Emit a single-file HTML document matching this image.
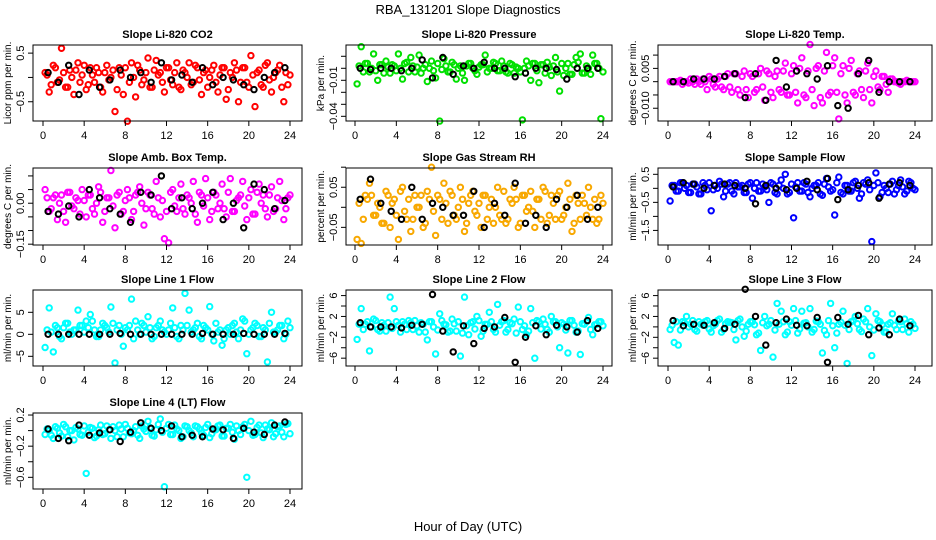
<!DOCTYPE html>
<html><head><meta charset="utf-8"><style>
html,body{margin:0;padding:0;background:#fff;}
svg{display:block;font-family:"Liberation Sans",Arial,sans-serif;}
</style></head><body>
<svg id="chart" width="936" height="540" viewBox="0 0 936 540" xmlns="http://www.w3.org/2000/svg">
<rect width="936" height="540" fill="#fff"/>
<text x="468" y="14" font-size="13" text-anchor="middle">RBA_131201  Slope Diagnostics</text>
<text x="468" y="531" font-size="13" text-anchor="middle">Hour of Day (UTC)</text>
</svg>
<script>
// time axes
const colorTimes = Array.from({length:60},(_, i)=>0.2+0.4*i);
const colorTimes2 = Array.from({length:60},(_, i)=>0.4+0.4*i);
const blackTimes = Array.from({length:24},(_, i)=>0.5+i);
const xTicks = [0,4,8,12,16,20,24];

// Panel series data
const co2Vals = [0.1,-0.3,0.25,-0.1,0.6,-0.2,0.15,-0.35,0.3,0.05,-0.25,0.2,-0.1,0.1,-0.3,0.25,0.0,-0.7,0.2,-0.35,-0.9,0.3,-0.4,0.15,-0.05,0.4,-0.2,0.35,0.1,-0.3,0.2,-0.15,0.3,-0.25,0.1,0.3,-0.1,0.2,-0.35,0.15,0.0,0.25,-0.3,0.2,-0.45,0.1,0.3,-0.5,0.2,-0.1,0.45,-0.6,0.15,-0.2,0.3,-0.3,0.1,0.25,-0.5,-0.15];
const co2Core = [0.05,-0.15,0.2,-0.05,0.1,-0.2,0.0,0.15,-0.1,0.25,-0.15,0.05,0.2,-0.2,0.1,-0.05,0.15,-0.25,0.05,0.2,-0.1,0.0,0.25,-0.15,0.1,-0.2,0.15,0.05,-0.1,0.2,-0.05,0.1,-0.2,0.15,0.0,-0.15,0.25,-0.05,0.1,-0.2,0.15,-0.1,0.05,0.2,-0.25,0.0,0.15,-0.1,0.2,-0.2,0.05,0.1,-0.15,0.25,-0.05,0.0,0.15,-0.2,0.1,0.05];
const co2Black = [0.1,-0.1,0.25,-0.35,0.15,-0.2,-0.05,0.15,0.0,0.1,-0.1,0.3,-0.05,0.05,-0.1,0.2,-0.15,0.0,-0.05,-0.15,-0.25,0.0,0.1,0.2];
const presVals = [-0.013,0.018,0.004,-0.003,0.012,-0.01,0.003,0.006,-0.004,0.002,0.012,-0.009,0.005,0.009,-0.003,0.011,0.0,-0.011,0.006,-0.008,-0.044,0.008,-0.003,0.005,-0.009,0.002,-0.01,0.004,0.0,-0.005,0.003,0.011,0.0,0.005,-0.002,0.006,-0.003,0.004,-0.004,0.0,-0.043,0.006,-0.01,0.004,-0.012,0.003,0.005,-0.006,0.009,-0.019,-0.006,0.004,-0.005,0.009,0.012,-0.004,0.0,0.011,0.004,-0.042];
const presCore = [0.002,-0.003,0.004,0.0,-0.002,0.003,-0.004,0.001,0.003,-0.002,0.0,0.004,-0.003,0.002,0.001,-0.004,0.003,0.0,-0.002,0.004,-0.001,0.002,-0.003,0.003,0.0,-0.004,0.002,0.004,-0.002,0.001,0.003,-0.003,0.0,0.004,-0.002,0.002,-0.004,0.003,0.001,-0.003,0.0,0.002,0.004,-0.002,0.003,-0.004,0.001,0.002,-0.003,0.004,0.0,-0.005,0.003,0.005,-0.004,0.002,-0.005,0.004,0.0,-0.003];
const presBlack = [0.0,-0.001,0.0,0.0,-0.002,0.0,0.007,-0.008,0.009,-0.005,0.002,0.0,0.005,0.0,0.0,-0.007,-0.004,0.0,0.0,-0.001,-0.009,0.0,0.0,0.0];
const tempVals = [0,0,0,-0.001,0,0.001,-0.001,0,0.001,-0.003,0.001,-0.002,0.002,-0.003,0.003,-0.004,0.003,-0.005,0.004,-0.006,0.002,-0.003,0.005,-0.007,0.003,-0.006,0.004,-0.004,0.007,-0.005,0.006,-0.008,0.009,-0.006,0.014,-0.009,0.006,-0.008,0.011,-0.004,0.009,-0.014,0.006,-0.008,0.008,-0.005,0.004,-0.006,0.007,-0.008,0.004,-0.003,0.002,-0.004,0.001,0,-0.001,0,0,0];
const tempCore = [0,0,0.0005,0,-0.0005,0,0.001,-0.001,0,0.002,-0.001,0.001,-0.002,0.002,-0.002,0.003,-0.003,0.002,-0.003,0.003,-0.004,0.003,-0.002,0.004,-0.004,0.002,-0.003,0.004,-0.005,0.003,-0.004,0.005,-0.005,0.004,-0.003,0.005,-0.006,0.004,-0.005,0.006,-0.004,0.003,-0.005,0.005,-0.004,0.003,-0.003,0.004,-0.003,0.002,-0.002,0.002,-0.001,0.001,0,-0.0005,0,0.0005,0,0];
const tempBlack = [0,0,0.001,0.001,0.001,0.002,0.003,-0.006,0.003,-0.007,0.008,-0.002,0.004,0.003,0.001,0.006,-0.009,-0.01,0.003,0.008,-0.004,0,0,0];
const ambVals = [0.05,-0.03,0.02,-0.06,0.03,-0.07,0.04,-0.02,0.01,0.05,-0.05,0.03,-0.04,0.06,-0.07,0.02,0.12,-0.09,0.04,-0.03,0.05,-0.06,0.03,0.06,-0.08,0.04,-0.02,0.08,-0.05,-0.13,-0.145,0.05,-0.03,0.07,-0.04,0.02,0.08,-0.07,0.03,0.09,-0.06,0.04,-0.02,0.07,-0.05,0.09,-0.03,0.02,0.08,-0.06,0.05,-0.04,0.07,0.03,-0.05,0.06,-0.02,0.08,-0.06,0.02];
const ambCore = [0.02,-0.02,0.03,0.0,-0.03,0.04,-0.01,0.02,-0.04,0.01,0.03,-0.02,0.0,0.04,-0.03,0.02,-0.01,0.03,-0.04,0.01,0.02,-0.03,0.04,0.0,-0.02,0.03,-0.04,0.02,0.01,-0.03,0.04,-0.01,0.02,-0.02,0.03,0.0,-0.04,0.04,-0.01,0.02,-0.03,0.03,0.0,-0.02,0.04,-0.03,0.01,0.03,-0.01,0.02,-0.04,0.04,0.0,-0.02,0.03,-0.03,0.02,0.01,-0.02,0.03];
const ambBlack = [-0.03,-0.04,-0.01,-0.05,0.05,0.02,-0.02,-0.04,-0.07,0.04,0.03,0.1,-0.02,0.02,-0.02,0.0,0.04,-0.06,0.0,-0.09,0.07,0.05,-0.02,0.01];
const rhVals = [-0.08,-0.09,0.03,0.06,-0.02,0.01,-0.04,0.04,-0.05,0.02,-0.08,0.05,-0.03,-0.06,0.03,0.0,-0.05,0.04,0.1,-0.07,0.02,0.06,-0.04,0.03,-0.03,0.05,-0.06,0.01,0.04,-0.02,-0.05,0.03,0.0,-0.04,0.05,-0.03,-0.04,0.02,0.05,-0.05,0.03,-0.01,0.04,-0.05,0.02,0.05,-0.04,0.03,-0.03,0.04,-0.02,0.06,-0.06,0.03,-0.03,0.01,0.05,-0.03,-0.04,0.03];
const rhCore = [0.01,-0.03,0.02,0.03,-0.02,0.0,-0.04,0.03,0.01,-0.02,0.04,-0.01,0.02,-0.03,0.0,0.03,-0.04,0.02,-0.01,0.03,-0.03,0.01,0.04,-0.02,0.0,0.02,-0.04,0.03,-0.01,0.01,0.03,-0.03,0.02,0.0,-0.02,0.04,-0.03,0.01,0.02,-0.04,0.03,0.0,-0.01,0.02,-0.03,0.04,-0.02,0.01,0.03,-0.03,0.0,0.02,-0.04,0.01,0.03,-0.02,0.0,0.02,-0.03,0.01];
const rhBlack = [0.02,0.07,0.01,-0.01,-0.03,0.05,-0.03,0.01,0.0,-0.02,-0.02,0.04,-0.05,0.01,-0.02,0.06,-0.04,-0.02,-0.05,0.02,0.0,0.03,-0.03,0.0];
const sfVals = [-0.45,0.1,-0.1,0.2,0.1,-0.15,0.15,-0.2,0.2,-0.05,-0.8,0.1,0.25,-0.3,0.15,-0.1,0.2,0.05,-0.15,0.15,-0.35,0.2,-0.1,0.05,-0.5,0.15,-0.2,0.3,0.5,-0.15,-1.05,0.2,-0.1,0.15,-0.3,0.1,0.2,-0.25,0.35,-0.1,-0.95,0.4,-0.2,0.1,-0.1,0.25,-0.35,0.2,0.3,-1.9,0.55,-0.3,0.1,-0.15,0.25,-0.05,0.3,-0.2,0.25,0.0];
const sfCore = [0.1,-0.1,0.2,0.0,-0.15,0.15,0.05,-0.2,0.1,0.2,-0.05,0.0,0.15,-0.1,0.2,-0.2,0.05,0.1,-0.15,0.2,0.0,-0.1,0.15,-0.05,0.2,-0.15,0.1,0.0,-0.2,0.15,0.05,-0.1,0.2,-0.15,0.0,0.1,-0.2,0.15,0.05,-0.05,0.2,-0.15,0.1,-0.1,0.2,0.0,-0.2,0.15,-0.05,0.1,0.2,-0.15,0.0,0.15,-0.2,0.1,0.05,-0.1,0.2,-0.05];
const sfBlack = [0.05,0.2,0.15,0.0,0.1,0.15,0.1,0.0,-0.55,0.1,0.0,-0.05,0.0,0.25,-0.05,0.35,-0.4,-0.05,0.1,0.2,-0.35,0.15,0.2,0.1];
const l1Vals = [-3,6,-4,1.5,-1,2.5,0.5,1,5.5,2,3,4.5,1,-0.5,2.5,1.5,6.2,-6.5,2,-2.7,1,8,3,0,2,4,-1,1.5,3,0.5,1,6,-0.5,2,9.3,5.5,1,2.5,-1,1.5,6.3,-1.5,0.5,-2.5,1,0,2.5,-1,3.5,-4.4,1,2.5,-0.5,1.5,-6.3,5,0.5,2,-1,3];
const l1Core = [1,0.5,2,-0.5,1.5,2.5,0,1,2,0.5,1.5,3,-0.5,1,2,0.5,2.5,1,0,1.5,2,-1,1,2.5,0.5,1.5,-0.5,2,1,0,2.5,1.5,-1,1,2,0.5,1.5,-0.5,2,1,0,2.5,1,-1,1.5,2,0.5,1,3,0,1.5,2,-0.5,1,2.5,0.5,1,2,0,1.5];
const l1Black = [0,0,0,0,0,0,0,0.2,0,0,0,0,0,0,0,0.2,0,0,0,0.2,0,0,0,0.2];
const l2Vals = [-2.4,3.5,0.5,-4.6,1.5,-0.5,0.8,-0.8,5.7,3.5,0.3,1,-0.5,0.8,1.2,-1,0.5,-2.5,1,-5.2,2.5,0.5,-1,1.5,-0.8,-5.6,5.7,-1.5,1,2,-1.8,0.5,2.8,-0.5,4.3,1,-1,0.8,1.5,3.8,-0.5,-1.5,3.5,-6,1,1.5,-0.5,2,1,-4,0.5,-5,1.2,-1,-5.3,0.5,1.8,-1.5,0.5,1];
const l2Core = [0.5,-0.5,1,0,1.2,-0.8,0.3,0.8,-0.3,1,-1,0.5,1.2,-0.5,0.2,0.8,-1,1,0,-0.6,1.2,0.4,-0.8,0.6,1,-1.2,0.2,0.8,-0.4,1.2,-0.8,0.5,1,-1,0.3,1.2,-0.5,0.6,-1.2,1,0.2,-0.8,0.8,1.2,-0.4,0.5,-1,1,0,0.8,-0.6,1.2,0.3,-0.8,0.6,1,-0.5,0.4,1,0.2];
const l2Black = [0.8,0,0,0,-0.2,0.3,0.5,6.2,-0.8,-4.8,0.2,-3.2,-0.3,0,1.8,-6.8,-2,0.2,-1.5,0.3,0,-1,1.2,-0.3];
const l3Vals = [-0.5,-3,-3.5,1,2,0.5,-0.5,1,0.3,1.2,-1,0.5,1.5,-0.5,1,0.8,-2.5,1.5,-1.8,0.5,1,-1.5,-4.5,2,0.5,-5.8,4.5,3,-1.5,1,3.5,-1.2,3,0.8,3.5,-0.5,1,-5,-1.5,4.5,-4,0.5,3,-7,1,2,-0.5,1.5,3.5,-5.5,2.5,1,-1,0.5,2.5,-0.5,1,1.5,-1,0.5];
const l3Core = [0.3,1,-0.6,0.8,0,1.2,-0.8,0.5,1,-0.4,0.2,1.2,-1,0.6,0.9,-0.5,1.2,0,-0.8,1,0.4,-1.2,0.8,0.2,1.2,-0.6,0.5,1,-1,0.3,1.2,-0.4,0.7,0,-1,1.1,0.5,-0.7,1.2,0.2,-1.2,0.9,0.3,-0.5,1.2,0.6,-0.9,1,0,-0.6,1.2,0.4,-1,0.8,0.3,1.2,-0.5,0.6,1,-0.3];
const l3Black = [1.2,0.2,0.5,0.3,0.8,-0.3,0.5,7.2,2.0,-3.5,0.8,1.5,0.3,0.2,1.8,-6.8,1.8,0.5,2.2,-1.5,-0.2,-1.5,1.5,0.2];
const l4Vals = [-0.05,0.0,-0.1,0.03,-0.07,0.05,0.0,-0.12,0.02,-0.06,-0.55,0.04,-0.09,0.01,-0.05,0.06,-0.1,0.0,0.07,-0.08,0.03,-0.04,0.05,-0.1,0.02,0.12,-0.06,0.01,0.15,-0.72,0.08,-0.05,0.02,-0.1,0.06,0.0,-0.08,0.05,-0.03,0.04,-0.09,0.01,0.06,-0.07,0.03,0.08,-0.11,0.0,0.05,-0.6,0.12,-0.05,0.07,-0.09,0.02,0.1,-0.04,0.06,-0.08,0.09];
const l4Core = [0.02,-0.06,0.05,-0.03,0.08,-0.08,0.0,0.04,-0.05,0.06,-0.02,0.03,-0.07,0.07,-0.04,0.01,0.05,-0.08,0.02,0.08,-0.03,0.0,-0.06,0.06,-0.01,0.04,-0.07,0.08,-0.02,0.03,-0.05,0.07,0.0,-0.08,0.05,-0.03,0.06,0.02,-0.06,0.08,-0.04,0.01,0.07,-0.07,0.03,-0.02,0.06,-0.05,0.08,0.0,-0.06,0.04,-0.03,0.07,0.01,-0.08,0.05,-0.02,0.08,-0.04];
const l4Black = [0.02,-0.1,-0.13,0.07,-0.06,-0.03,0.01,-0.14,-0.02,0.1,0.03,0.0,0.06,-0.08,-0.06,-0.08,0.02,0.01,-0.1,0.03,-0.02,-0.05,0.07,0.11];

// y tick values / labels per panel
const co2Ticks = [0.5,0,-0.5], co2Labels = ["0.5","","\u22120.5"];
const presTicks = [0.01,0,-0.01,-0.02,-0.03,-0.04], presLabels = ["","","\u22120.01","","","\u22120.04"];
const tempTicks = [0.01,0.005,0,-0.005,-0.01], tempLabels = ["","0.005","","","\u22120.010"];
const ambTicks = [0.1,0.05,0,-0.05,-0.1,-0.15], ambLabels = ["","","0.00","","","\u22120.15"];
const rhTicks = [0.1,0.05,0,-0.05], rhLabels = ["","0.05","","\u22120.05"];
const sfTicks = [0.5,0,-0.5,-1,-1.5], sfLabels = ["0.5","","\u22120.5","","\u22121.5"];
const l1Ticks = [5,0,-5], l1Labels = ["5","0","\u22125"];
const l2Ticks = [6,4,2,0,-2,-4,-6], l2Labels = ["6","","2","","\u22122","","\u22126"];
const l4Ticks = [0.2,0,-0.2,-0.4,-0.6], l4Labels = ["0.2","","\u22120.2","","\u22120.6"];

const NS = "http://www.w3.org/2000/svg";
const svg = document.getElementById("chart");
function mk(tag, attrs, parent){ const e=document.createElementNS(NS,tag); for(const k in attrs) e.setAttribute(k,attrs[k]); (parent||svg).appendChild(e); return e; }

const cols = [{l:33,r:302,x0:43,x24:290},{l:346,r:612,x0:355,x24:603},{l:658,r:932,x0:668,x24:915}];
const rows = [{t:45,b:121},{t:168,b:245},{t:290,b:366},{t:413,b:489}];

const panels = [
 {name:"co2",title:"Slope Li-820 CO2",ylab:"Licor ppm per min.",c:0,r:0,color:"#ff0000",ymax:0.667,ymin:-0.896,vals:co2Vals,core:co2Core,blk:co2Black,ticks:co2Ticks,labels:co2Labels},
 {name:"pressure",title:"Slope Li-820 Pressure",ylab:"kPa per min.",c:1,r:0,color:"#00e000",ymax:0.0194,ymin:-0.0439,vals:presVals,core:presCore,blk:presBlack,ticks:presTicks,labels:presLabels},
 {name:"li820-temp",title:"Slope Li-820 Temp.",ylab:"degrees C per min.",c:2,r:0,color:"#ff00ff",ymax:0.0138,ymin:-0.0148,vals:tempVals,core:tempCore,blk:tempBlack,ticks:tempTicks,labels:tempLabels},
 {name:"amb-box-temp",title:"Slope Amb. Box Temp.",ylab:"degrees C per min.",c:0,r:1,color:"#ff00ff",ymax:0.129,ymin:-0.153,vals:ambVals,core:ambCore,blk:ambBlack,ticks:ambTicks,labels:ambLabels},
 {name:"gas-stream-rh",title:"Slope Gas Stream RH",ylab:"percent per min.",c:1,r:1,color:"#f8a800",ymax:0.098,ymin:-0.094,vals:rhVals,core:rhCore,blk:rhBlack,ticks:rhTicks,labels:rhLabels},
 {name:"sample-flow",title:"Slope Sample Flow",ylab:"ml/min per min.",c:2,r:1,color:"#0000ff",ymax:0.725,ymin:-2.02,vals:sfVals,core:sfCore,blk:sfBlack,ticks:sfTicks,labels:sfLabels},
 {name:"line1-flow",title:"Slope Line 1 Flow",ylab:"ml/min per min.",c:0,r:2,color:"#00ffff",ymax:10.07,ymin:-7.2,vals:l1Vals,core:l1Core,blk:l1Black,ticks:l1Ticks,labels:l1Labels},
 {name:"line2-flow",title:"Slope Line 2 Flow",ylab:"ml/min per min.",c:1,r:2,color:"#00ffff",ymax:7.07,ymin:-7.5,vals:l2Vals,core:l2Core,blk:l2Black,ticks:l2Ticks,labels:l2Labels},
 {name:"line3-flow",title:"Slope Line 3 Flow",ylab:"ml/min per min.",c:2,r:2,color:"#00ffff",ymax:7.07,ymin:-7.5,vals:l3Vals,core:l3Core,blk:l3Black,ticks:l2Ticks,labels:l2Labels},
 {name:"line4-flow",title:"Slope Line 4 (LT) Flow",ylab:"ml/min per min.",c:0,r:3,color:"#00ffff",ymax:0.226,ymin:-0.75,vals:l4Vals,core:l4Core,blk:l4Black,ticks:l4Ticks,labels:l4Labels}
];

panels.forEach(p=>{
  const C=cols[p.c], R=rows[p.r];
  const g=mk("g",{});
  
  
  const xs=t=>C.x0+(t/24)*(C.x24-C.x0);
  const ys=v=>R.t+(p.ymax-v)/(p.ymax-p.ymin)*(R.b-R.t);
  const title=mk("text",{x:(C.l+C.r)/2,y:R.t-7,"font-size":11,"font-weight":"bold","text-anchor":"middle"},g);
  title.textContent=p.title;
  
  
  const ylx=C.l-22, ylyc=(R.t+R.b)/2;
  const yl=mk("text",{x:ylx,y:ylyc,"font-size":10,"text-anchor":"middle",transform:`rotate(-90 ${ylx} ${ylyc})`},g);
  yl.textContent=p.ylab;
  
  
  const pg=mk("g",{fill:"none","stroke-width":2},g);
  p.vals.forEach((v,i)=>{
    const c=mk("circle",{cx:xs(colorTimes[i]).toFixed(1),cy:ys(v).toFixed(1),r:2.7,stroke:p.color},pg);
    
    
  });
  p.core.forEach((v,i)=>{
    const c=mk("circle",{cx:xs(colorTimes2[i]).toFixed(1),cy:ys(v).toFixed(1),r:2.7,stroke:p.color},pg);
    
    
  });
  p.blk.forEach((v,i)=>{
    const c=mk("circle",{cx:xs(blackTimes[i]).toFixed(1),cy:ys(v).toFixed(1),r:2.7,stroke:"#000"},pg);
    
    
  });
  const box=mk("rect",{x:C.l,y:R.t,width:C.r-C.l,height:R.b-R.t,fill:"none",stroke:"#000","stroke-width":1},g);
  
  
  xTicks.forEach(t=>{
    const x=xs(t);
    mk("line",{x1:x,x2:x,y1:R.b,y2:R.b+5,stroke:"#000"},g);
    const tx=mk("text",{x:x,y:R.b+18,"font-size":11,"text-anchor":"middle"},g);
    tx.textContent=String(t);
    
    
  });
  p.ticks.forEach((v,i)=>{
    const y=ys(v);
    mk("line",{x1:C.l-5,x2:C.l,y1:y,y2:y,stroke:"#000"},g);
    if(p.labels[i]){
      const lx=C.l-9;
      const ty=mk("text",{x:lx,y:y,"font-size":11,"text-anchor":"middle",transform:`rotate(-90 ${lx} ${y})`},g);
      ty.textContent=p.labels[i];
      
      
    }
  });
});
</script>
</body></html>
